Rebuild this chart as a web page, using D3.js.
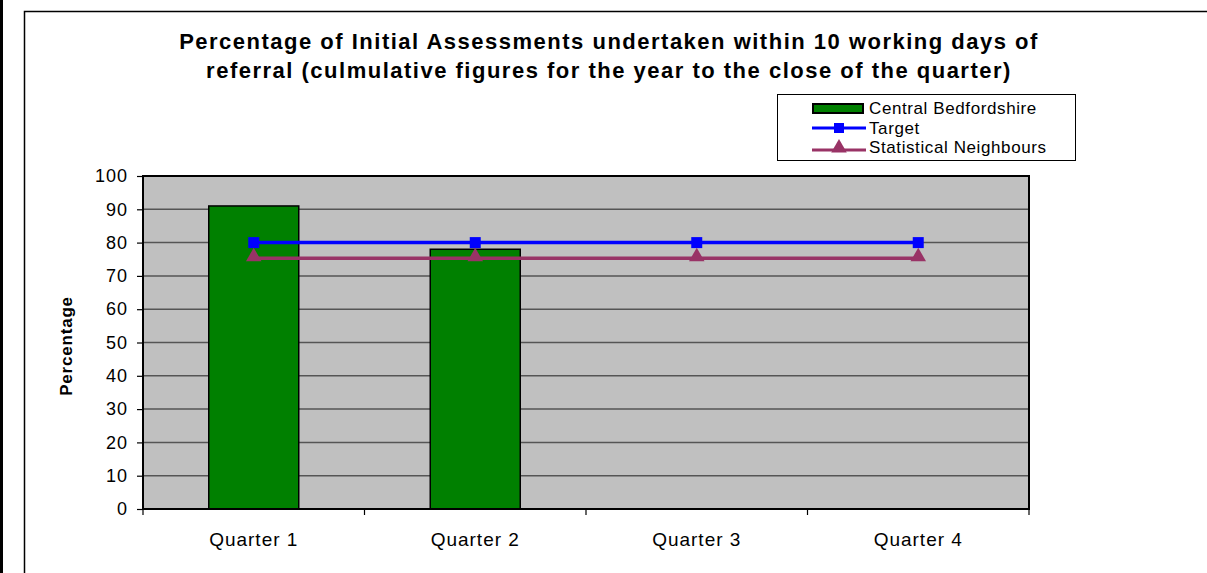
<!DOCTYPE html>
<html>
<head>
<meta charset="utf-8">
<script src="https://cdn.jsdelivr.net/npm/d3@7"></script>
<style>
  body { margin: 0; background: #fff; }
  svg { display: block; font-family: "Liberation Sans", Arial, sans-serif; }
</style>
</head>
<body>
<div id="chart"></div>
<script>
// data
const quarters = ["Quarter 1", "Quarter 2", "Quarter 3", "Quarter 4"];
const centralBeds = [91, 78, null, null];
const target = [80, 80, 80, 80];
const neighbours = [75.3, 75.3, 75.3, 75.3];
const yTicks = [0, 10, 20, 30, 40, 50, 60, 70, 80, 90, 100];
const titleLines = ["Percentage of Initial Assessments undertaken within 10 working days of",
                    "referral (culmulative figures for the year to the close of the quarter)"];

const width = 1207, height = 573;
const plot = {left: 143, right: 1029, top: 176, bottom: 509};

let svg = d3.select("#chart").append("svg")
            .attr("width", width)
            .attr("height", height);

// outer frame (left strip + chart border)
svg.append("rect").attr("x", 0).attr("y", 0).attr("width", 3).attr("height", height).attr("fill", "#000");
svg.append("path")
   .attr("d", `M24.5,${height} V11.5 H${width}`)
   .attr("fill", "none").attr("stroke", "#000").attr("stroke-width", 1.5);

// scales
let x = d3.scaleBand().domain(quarters).range([plot.left, plot.right]).paddingInner(0).paddingOuter(0);
let y = d3.scaleLinear().domain([0, 100]).range([plot.bottom, plot.top]);
const barW = 90;

// plot background
svg.append("rect")
   .attr("x", plot.left).attr("y", plot.top)
   .attr("width", plot.right - plot.left).attr("height", plot.bottom - plot.top)
   .attr("fill", "#c0c0c0");

// gridlines
svg.append("g").selectAll("line")
   .data(yTicks.filter(d => d > 0 && d < 100))
   .enter().append("line")
   .attr("x1", plot.left).attr("x2", plot.right)
   .attr("y1", d => y(d)).attr("y2", d => y(d))
   .attr("stroke", "#555").attr("stroke-width", 1.5);

// bars
svg.append("g").selectAll("rect")
   .data(quarters.map((q, i) => ({q: q, v: centralBeds[i]})).filter(d => d.v != null))
   .enter().append("rect")
   .attr("x", d => x(d.q) + x.bandwidth() / 2 - barW / 2)
   .attr("y", d => y(d.v))
   .attr("width", barW)
   .attr("height", d => y(0) - y(d.v))
   .attr("fill", "#008000")
   .attr("stroke", "#000").attr("stroke-width", 1.5);

// plot border
svg.append("rect")
   .attr("x", plot.left).attr("y", plot.top)
   .attr("width", plot.right - plot.left).attr("height", plot.bottom - plot.top)
   .attr("fill", "none").attr("stroke", "#000").attr("stroke-width", 2);

// y axis
let yAxis = d3.axisLeft(y).tickValues(yTicks).tickSize(6).tickPadding(9);
let yg = svg.append("g").attr("transform", `translate(${plot.left},0)`).call(yAxis);
yg.select(".domain").remove();
yg.selectAll(".tick line").attr("stroke", "#000").attr("stroke-width", 1.2);
yg.selectAll(".tick text").attr("font-size", 18).attr("fill", "#000")
  .attr("letter-spacing", 1)
  .attr("font-family", "Liberation Sans, Arial, sans-serif");

// x axis
let xAxis = d3.axisBottom(x).tickSize(0).tickPadding(24);
let xg = svg.append("g").attr("transform", `translate(0,${plot.bottom})`).call(xAxis);
xg.select(".domain").remove();
xg.selectAll(".tick text").attr("font-size", 19).attr("fill", "#000")
  .attr("letter-spacing", 1)
  .attr("font-family", "Liberation Sans, Arial, sans-serif");
// x tick marks at category boundaries
svg.append("g").selectAll("line")
   .data(d3.range(quarters.length + 1))
   .enter().append("line")
   .attr("x1", i => plot.left + i * x.bandwidth()).attr("x2", i => plot.left + i * x.bandwidth())
   .attr("y1", plot.bottom).attr("y2", plot.bottom + 6)
   .attr("stroke", "#000").attr("stroke-width", 1.2);

// lines
let line = d3.line().x((d, i) => x(quarters[i]) + x.bandwidth() / 2).y(d => y(d));
svg.append("path").datum(target).attr("d", line)
   .attr("fill", "none").attr("stroke", "#0000ff").attr("stroke-width", 3.5);
svg.append("path").datum(neighbours).attr("d", line)
   .attr("fill", "none").attr("stroke", "#993366").attr("stroke-width", 3.5);

// markers
svg.append("g").selectAll("rect")
   .data(target).enter().append("rect")
   .attr("x", (d, i) => x(quarters[i]) + x.bandwidth() / 2 - 5.5)
   .attr("y", d => y(d) - 5.5)
   .attr("width", 11).attr("height", 11)
   .attr("fill", "#0000ff");
let tri = d3.symbol().type(d3.symbolTriangle).size(105);
svg.append("g").selectAll("path")
   .data(neighbours).enter().append("path")
   .attr("d", tri)
   .attr("transform", (d, i) => `translate(${x(quarters[i]) + x.bandwidth() / 2},${y(d) - 1.5})`)
   .attr("fill", "#993366");

// title
svg.append("text")
   .attr("x", 609).attr("y", 49)
   .attr("text-anchor", "middle")
   .attr("font-size", 22).attr("font-weight", "bold")
   .attr("letter-spacing", 1.5)
   .selectAll("tspan").data(titleLines).enter().append("tspan")
   .attr("x", 609).attr("dy", (d, i) => i ? 29 : 0)
   .text(d => d);

// y axis title
svg.append("text")
   .attr("transform", "translate(72,346) rotate(-90)")
   .attr("text-anchor", "middle")
   .attr("font-size", 17).attr("font-weight", "bold")
   .attr("letter-spacing", 0.8)
   .text("Percentage");

// legend
let legend = svg.append("g");
legend.append("rect")
   .attr("x", 777.5).attr("y", 94.5).attr("width", 298).attr("height", 66)
   .attr("fill", "#fff").attr("stroke", "#000").attr("stroke-width", 1);
legend.append("rect")
   .attr("x", 813).attr("y", 104).attr("width", 50).attr("height", 9)
   .attr("fill", "#008000").attr("stroke", "#000").attr("stroke-width", 2);
legend.append("line").attr("x1", 812).attr("x2", 866).attr("y1", 128).attr("y2", 128)
   .attr("stroke", "#0000ff").attr("stroke-width", 3);
legend.append("rect").attr("x", 834).attr("y", 123).attr("width", 10).attr("height", 10).attr("fill", "#0000ff");
legend.append("line").attr("x1", 812).attr("x2", 866).attr("y1", 150).attr("y2", 150)
   .attr("stroke", "#993366").attr("stroke-width", 3);
legend.append("path").attr("d", tri).attr("transform", "translate(839,148)").attr("fill", "#993366");
const legendLabels = ["Central Bedfordshire", "Target", "Statistical Neighbours"];
legend.selectAll("text.lab")
   .data(legendLabels).enter().append("text")
   .attr("class", "lab")
   .attr("x", 869).attr("y", (d, i) => 114 + i * 19.5)
   .attr("font-size", 17)
   .attr("letter-spacing", 0.6)
   .text(d => d);
</script>
</body>
</html>
